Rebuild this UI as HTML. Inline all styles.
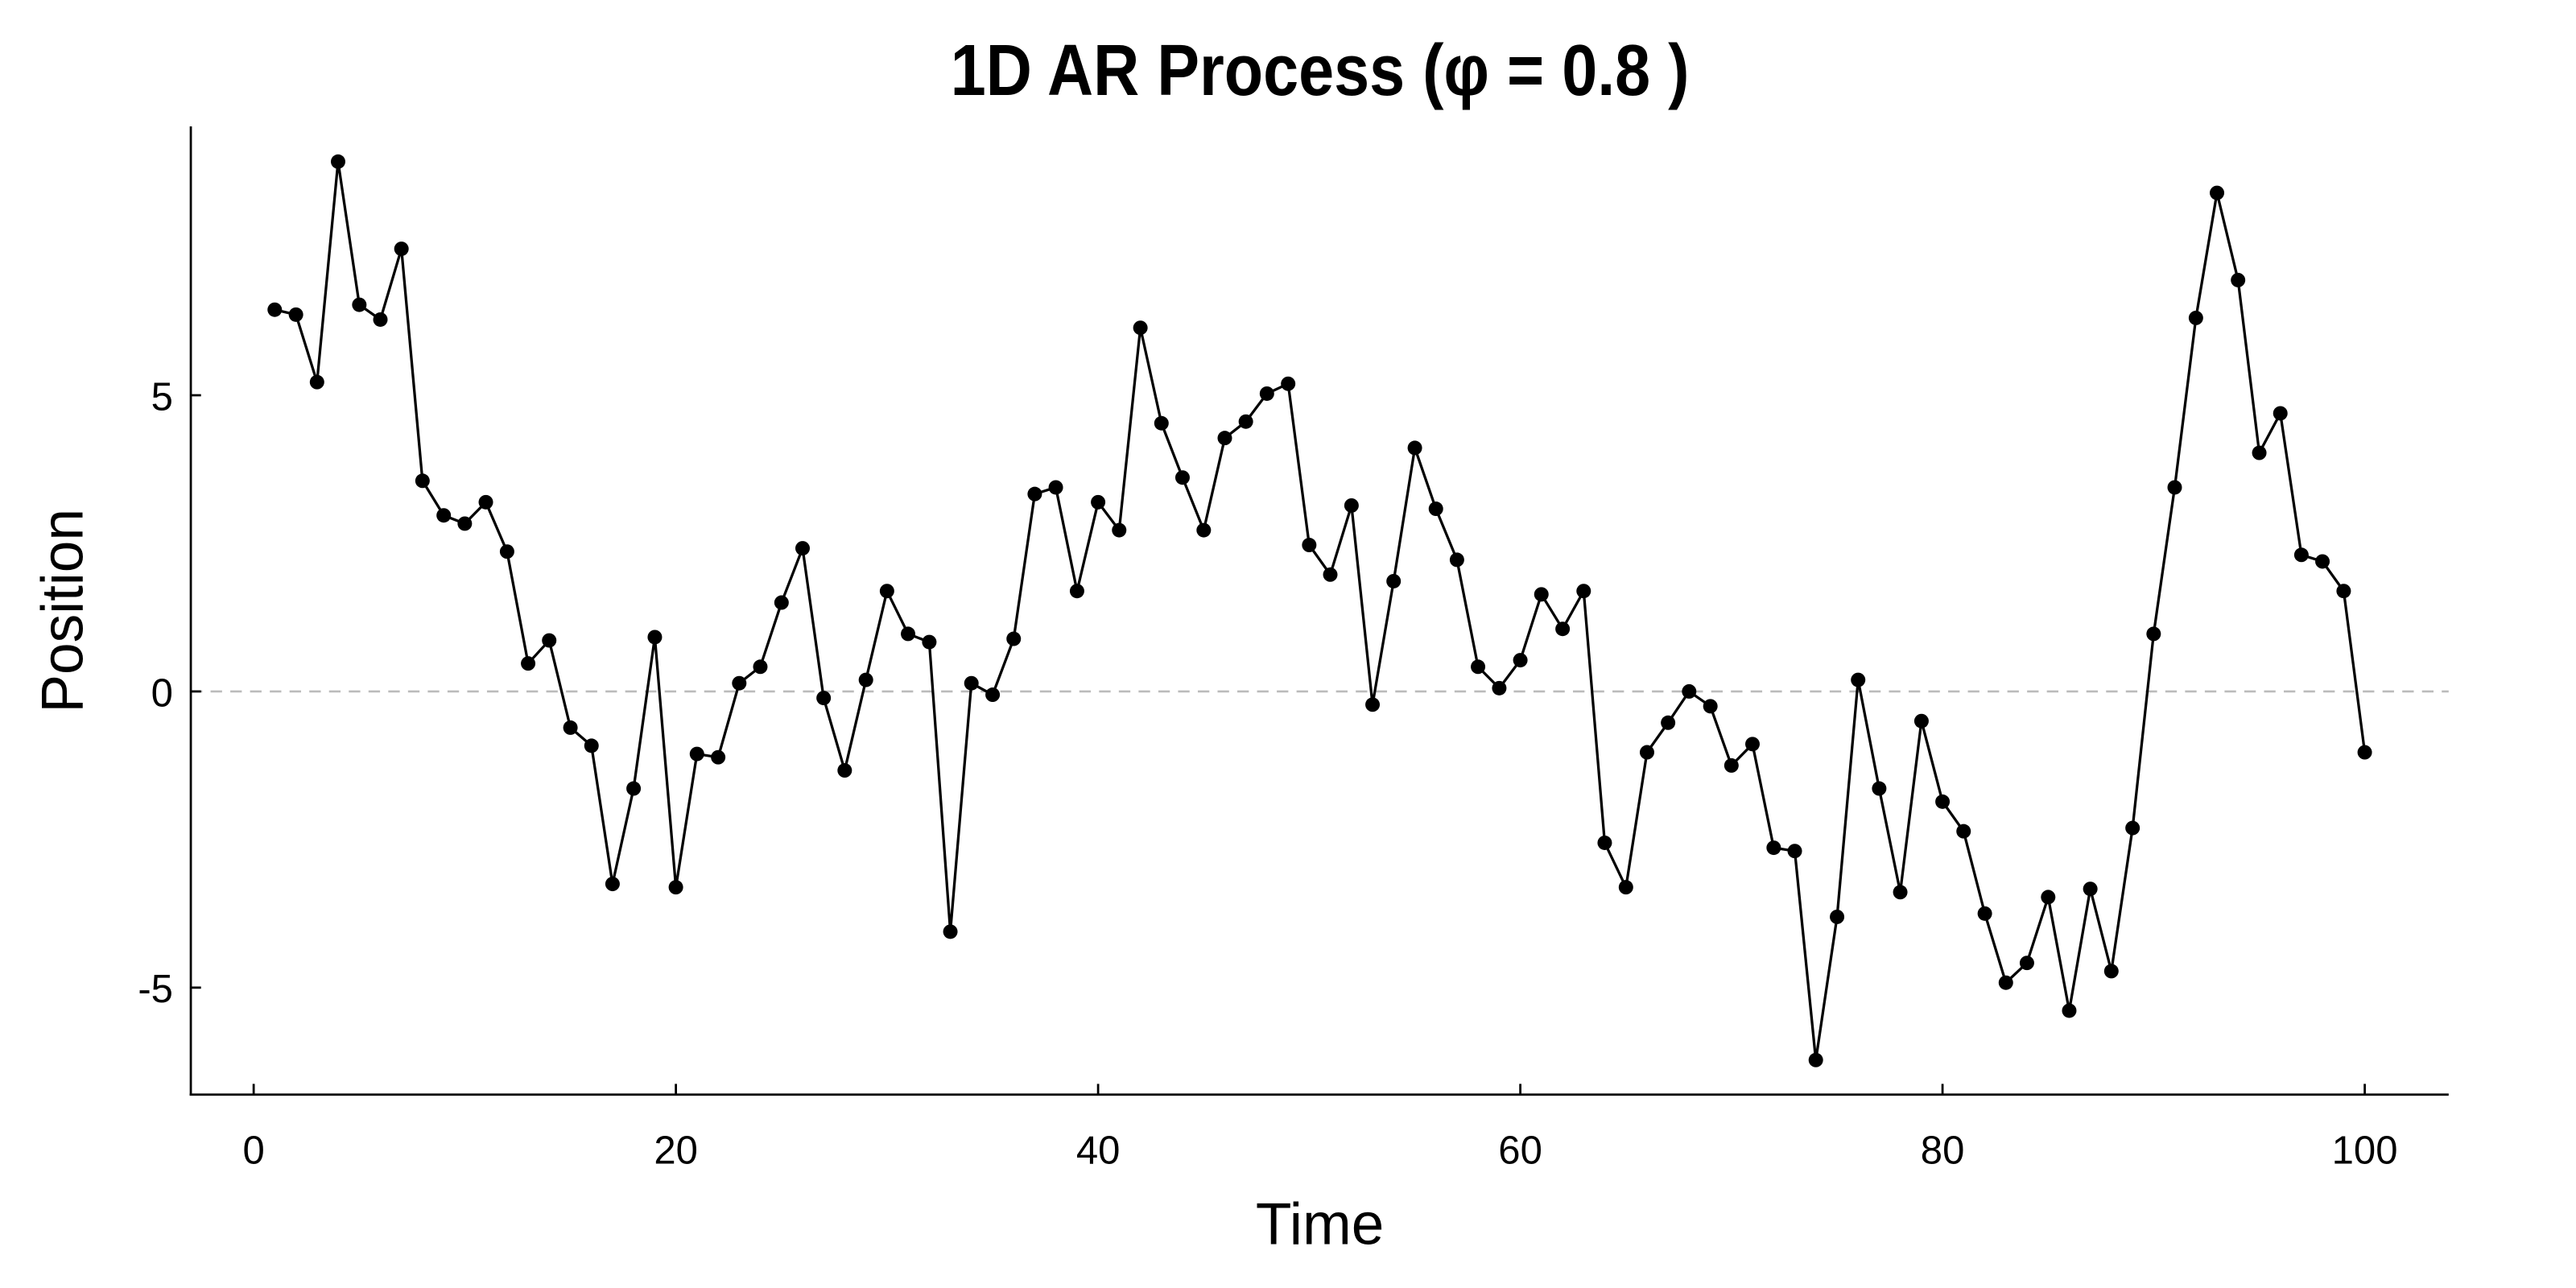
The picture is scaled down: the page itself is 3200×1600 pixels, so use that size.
<!DOCTYPE html>
<html><head><meta charset="utf-8"><style>html,body{margin:0;padding:0;background:#fff}svg{display:block}</style></head>
<body>
<svg width="3200" height="1600" xmlns="http://www.w3.org/2000/svg" font-family="Liberation Sans, Arial, sans-serif">
<rect width="3200" height="1600" fill="#fff"/>
<g transform="translate(-1.7 -1.6) scale(2.044)">
<text x="803" y="58.5" text-anchor="middle" font-weight="bold" font-size="44" textLength="449" lengthAdjust="spacingAndGlyphs">1D AR Process (φ = 0.8 )</text>
<line x1="116.8" y1="421" x2="1489" y2="421" stroke="#bbb" stroke-width="1.3" stroke-dasharray="7,5"/>
<g stroke="#000" stroke-width="1.35" fill="none">
<line x1="116.8" y1="77.6" x2="116.8" y2="666.6"/>
<line x1="116.1" y1="666" x2="1489" y2="666"/>
<line x1="116.8" y1="241" x2="123" y2="241"/>
<line x1="116.8" y1="421" x2="123" y2="421"/>
<line x1="116.8" y1="601" x2="123" y2="601"/>
<line x1="155" y1="666" x2="155" y2="659.5"/>
<line x1="411.6" y1="666" x2="411.6" y2="659.5"/>
<line x1="668.2" y1="666" x2="668.2" y2="659.5"/>
<line x1="924.8" y1="666" x2="924.8" y2="659.5"/>
<line x1="1181.4" y1="666" x2="1181.4" y2="659.5"/>
<line x1="1438" y1="666" x2="1438" y2="659.5"/>
</g>
<g font-size="24" text-anchor="end">
<text x="106" y="250">5</text>
<text x="106" y="430">0</text>
<text x="106" y="610">-5</text>
</g>
<g font-size="24" text-anchor="middle">
<text x="155" y="708">0</text>
<text x="411.6" y="708">20</text>
<text x="668.2" y="708">40</text>
<text x="924.8" y="708">60</text>
<text x="1181.4" y="708">80</text>
<text x="1438" y="708">100</text>
</g>
<text x="803" y="757" font-size="36" text-anchor="middle" textLength="78" lengthAdjust="spacingAndGlyphs">Time</text>
<text transform="translate(51 372) rotate(-90)" font-size="36" text-anchor="middle" textLength="124" lengthAdjust="spacingAndGlyphs">Position</text>
<polyline fill="none" stroke="#000" stroke-width="1.6" stroke-linejoin="round" points="167.8,189 180.7,192 193.5,233 206.3,99 219.2,186 232,195 244.8,152 257.6,293 270.5,314 283.3,319 296.1,306 309,336 321.8,404 334.6,390 347.5,443 360.3,454 373.1,538 385.9,480 398.8,388 411.6,540 424.4,459 437.3,461 450.1,416 462.9,406 475.8,367 488.6,334 501.4,425 514.2,469 527.1,414 539.9,360 552.7,386 565.6,391 578.4,567 591.2,416 604.1,423 616.9,389 629.7,301 642.5,297 655.4,360 668.2,306 681,323 693.9,200 706.7,258 719.5,291 732.4,323 745.2,267 758,257 770.8,240 783.7,234 796.5,332 809.3,350 822.2,308 835,429 847.8,354 860.7,273 873.5,310 886.3,341 899.1,406 912,419 924.8,402 937.6,362 950.5,383 963.3,360 976.1,513 989,540 1001.8,458 1014.6,440 1027.4,421 1040.3,430 1053.1,466 1065.9,453 1078.8,516 1091.6,518 1104.4,645 1117.3,558 1130.1,414 1142.9,480 1155.7,543 1168.6,439 1181.4,488 1194.2,506 1207.1,556 1219.9,598 1232.7,586 1245.6,546 1258.4,615 1271.2,541 1284,591 1296.9,504 1309.7,386 1322.5,297 1335.4,194 1348.2,118 1361,171 1373.9,276 1386.7,252 1399.5,338 1412.3,342 1425.2,360 1438,458"/>
<g fill="#000">
<circle cx="167.8" cy="189" r="4.4"/><circle cx="180.7" cy="192" r="4.4"/><circle cx="193.5" cy="233" r="4.4"/><circle cx="206.3" cy="99" r="4.4"/><circle cx="219.2" cy="186" r="4.4"/><circle cx="232" cy="195" r="4.4"/><circle cx="244.8" cy="152" r="4.4"/><circle cx="257.6" cy="293" r="4.4"/><circle cx="270.5" cy="314" r="4.4"/><circle cx="283.3" cy="319" r="4.4"/>
<circle cx="296.1" cy="306" r="4.4"/><circle cx="309" cy="336" r="4.4"/><circle cx="321.8" cy="404" r="4.4"/><circle cx="334.6" cy="390" r="4.4"/><circle cx="347.5" cy="443" r="4.4"/><circle cx="360.3" cy="454" r="4.4"/><circle cx="373.1" cy="538" r="4.4"/><circle cx="385.9" cy="480" r="4.4"/><circle cx="398.8" cy="388" r="4.4"/><circle cx="411.6" cy="540" r="4.4"/>
<circle cx="424.4" cy="459" r="4.4"/><circle cx="437.3" cy="461" r="4.4"/><circle cx="450.1" cy="416" r="4.4"/><circle cx="462.9" cy="406" r="4.4"/><circle cx="475.8" cy="367" r="4.4"/><circle cx="488.6" cy="334" r="4.4"/><circle cx="501.4" cy="425" r="4.4"/><circle cx="514.2" cy="469" r="4.4"/><circle cx="527.1" cy="414" r="4.4"/><circle cx="539.9" cy="360" r="4.4"/>
<circle cx="552.7" cy="386" r="4.4"/><circle cx="565.6" cy="391" r="4.4"/><circle cx="578.4" cy="567" r="4.4"/><circle cx="591.2" cy="416" r="4.4"/><circle cx="604.1" cy="423" r="4.4"/><circle cx="616.9" cy="389" r="4.4"/><circle cx="629.7" cy="301" r="4.4"/><circle cx="642.5" cy="297" r="4.4"/><circle cx="655.4" cy="360" r="4.4"/><circle cx="668.2" cy="306" r="4.4"/>
<circle cx="681" cy="323" r="4.4"/><circle cx="693.9" cy="200" r="4.4"/><circle cx="706.7" cy="258" r="4.4"/><circle cx="719.5" cy="291" r="4.4"/><circle cx="732.4" cy="323" r="4.4"/><circle cx="745.2" cy="267" r="4.4"/><circle cx="758" cy="257" r="4.4"/><circle cx="770.8" cy="240" r="4.4"/><circle cx="783.7" cy="234" r="4.4"/><circle cx="796.5" cy="332" r="4.4"/>
<circle cx="809.3" cy="350" r="4.4"/><circle cx="822.2" cy="308" r="4.4"/><circle cx="835" cy="429" r="4.4"/><circle cx="847.8" cy="354" r="4.4"/><circle cx="860.7" cy="273" r="4.4"/><circle cx="873.5" cy="310" r="4.4"/><circle cx="886.3" cy="341" r="4.4"/><circle cx="899.1" cy="406" r="4.4"/><circle cx="912" cy="419" r="4.4"/><circle cx="924.8" cy="402" r="4.4"/>
<circle cx="937.6" cy="362" r="4.4"/><circle cx="950.5" cy="383" r="4.4"/><circle cx="963.3" cy="360" r="4.4"/><circle cx="976.1" cy="513" r="4.4"/><circle cx="989" cy="540" r="4.4"/><circle cx="1001.8" cy="458" r="4.4"/><circle cx="1014.6" cy="440" r="4.4"/><circle cx="1027.4" cy="421" r="4.4"/><circle cx="1040.3" cy="430" r="4.4"/><circle cx="1053.1" cy="466" r="4.4"/>
<circle cx="1065.9" cy="453" r="4.4"/><circle cx="1078.8" cy="516" r="4.4"/><circle cx="1091.6" cy="518" r="4.4"/><circle cx="1104.4" cy="645" r="4.4"/><circle cx="1117.3" cy="558" r="4.4"/><circle cx="1130.1" cy="414" r="4.4"/><circle cx="1142.9" cy="480" r="4.4"/><circle cx="1155.7" cy="543" r="4.4"/><circle cx="1168.6" cy="439" r="4.4"/><circle cx="1181.4" cy="488" r="4.4"/>
<circle cx="1194.2" cy="506" r="4.4"/><circle cx="1207.1" cy="556" r="4.4"/><circle cx="1219.9" cy="598" r="4.4"/><circle cx="1232.7" cy="586" r="4.4"/><circle cx="1245.6" cy="546" r="4.4"/><circle cx="1258.4" cy="615" r="4.4"/><circle cx="1271.2" cy="541" r="4.4"/><circle cx="1284" cy="591" r="4.4"/><circle cx="1296.9" cy="504" r="4.4"/><circle cx="1309.7" cy="386" r="4.4"/>
<circle cx="1322.5" cy="297" r="4.4"/><circle cx="1335.4" cy="194" r="4.4"/><circle cx="1348.2" cy="118" r="4.4"/><circle cx="1361" cy="171" r="4.4"/><circle cx="1373.9" cy="276" r="4.4"/><circle cx="1386.7" cy="252" r="4.4"/><circle cx="1399.5" cy="338" r="4.4"/><circle cx="1412.3" cy="342" r="4.4"/><circle cx="1425.2" cy="360" r="4.4"/><circle cx="1438" cy="458" r="4.4"/>
</g>
</g>
</svg>
</body></html>
